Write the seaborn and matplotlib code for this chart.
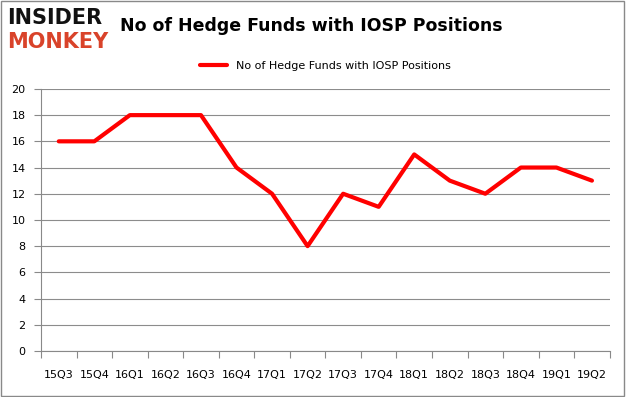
import matplotlib
matplotlib.use("Agg")
import matplotlib.pyplot as plt
import seaborn as sns
import pandas as pd
from matplotlib.patches import Rectangle

quarters = ["15Q3", "15Q4", "16Q1", "16Q2", "16Q3", "16Q4", "17Q1", "17Q2",
            "17Q3", "17Q4", "18Q1", "18Q2", "18Q3", "18Q4", "19Q1", "19Q2"]
funds = [16, 16, 18, 18, 18, 14, 12, 8, 12, 11, 15, 13, 12, 14, 14, 13]
series_name = "No of Hedge Funds with IOSP Positions"
yticks = list(range(0, 21, 2))

sns.set_theme(style="white")
plt.rcParams['font.family'] = ['DejaVu Sans']

df = pd.DataFrame({"quarter": quarters, "funds": funds, "pos": range(len(quarters))})

fig = plt.figure(figsize=(6.26, 3.97), dpi=100)
ax = fig.add_axes([0.0655, 0.116, 0.9085, 0.66])

sns.lineplot(data=df, x="pos", y="funds", ax=ax, color="#ff0000", linewidth=3,
             label=series_name, legend=False)

ax.set_xlim(-0.5, len(quarters) - 0.5)
ax.set_ylim(0, 20)
ax.set_yticks(yticks)
ax.set_yticklabels([str(v) for v in yticks], fontsize=8, color="black")
ax.set_xticks(range(len(quarters)))
ax.set_xticklabels(quarters, fontsize=8, color="black")
ax.set_xticks([i - 0.5 for i in range(len(quarters) + 1)], minor=True)
ax.tick_params(axis="x", which="major", length=0, pad=14)
ax.tick_params(axis="x", which="minor", length=5, color="#898989", width=0.8, direction="out", bottom=True)
ax.tick_params(axis="y", which="major", length=5, color="#898989", width=0.8, direction="out", left=True, pad=6)
ax.grid(axis="y", color="#8c8c8c", linewidth=0.8)
ax.set_axisbelow(True)
for s in ["top", "right"]:
    ax.spines[s].set_visible(False)
for s in ["left", "bottom"]:
    ax.spines[s].set_color("#898989")
    ax.spines[s].set_linewidth(0.8)
ax.set_xlabel("")
ax.set_ylabel("")

leg = ax.legend(handles=ax.get_lines()[:1], labels=[series_name], loc="lower center",
                bbox_to_anchor=(0.5, 1.03), frameon=False, fontsize=8, handlelength=2.5)
for t in leg.get_texts():
    t.set_color("black")

fig.text(0.4976, 0.935, "No of Hedge Funds with IOSP Positions", ha="center", va="center",
         fontsize=12.5, fontweight="bold", color="#000000")
fig.text(0.012, 0.955, "INSIDER", ha="left", va="center", fontsize=15, fontweight="heavy",
         color="#111111")
fig.text(0.012, 0.895, "MONKEY", ha="left", va="center", fontsize=15, fontweight="heavy",
         color="#d9432a")

fig.patches.append(Rectangle((0.0015, 0.002), 0.996, 0.995, transform=fig.transFigure,
                             fill=False, edgecolor="#898989", linewidth=1))

fig.savefig("out.png", dpi=100)
